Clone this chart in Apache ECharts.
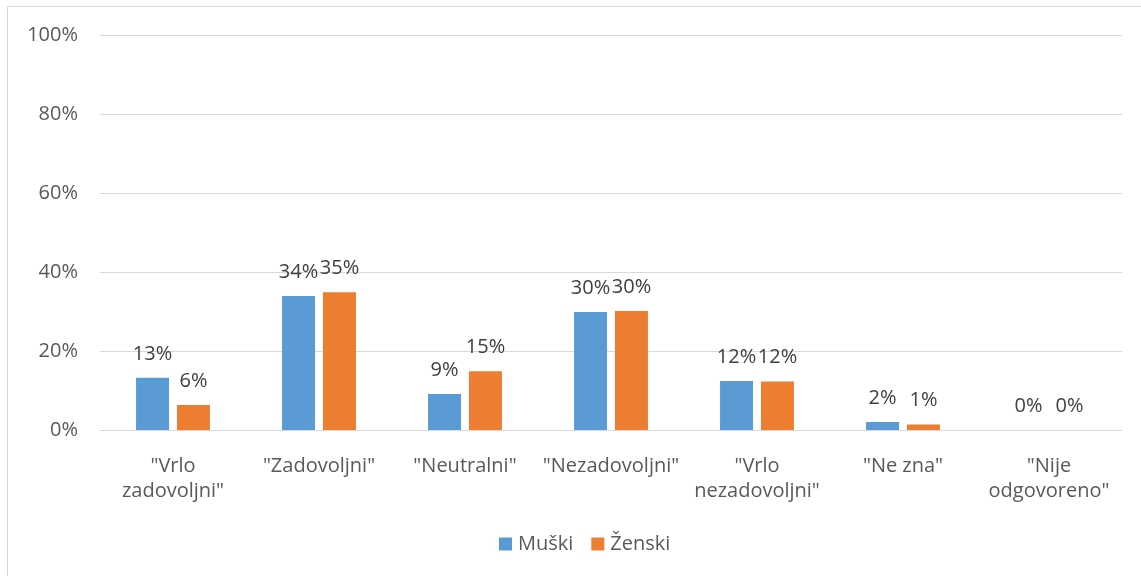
<!DOCTYPE html>
<html><head><meta charset="utf-8">
<script src="https://cdn.jsdelivr.net/npm/echarts@6/dist/echarts.min.js"></script>
<style>html,body{margin:0;padding:0;background:#fff}#c{width:1141px;height:576px}</style>
</head><body><div id="c"></div>
<script>
const categories = ['"Vrlo\nzadovoljni"', '"Zadovoljni"', '"Neutralni"', '"Nezadovoljni"', '"Vrlo\nnezadovoljni"', '"Ne zna"', '"Nije\nodgovoreno"'];
const seriesNames = ['Muški', 'Ženski'];
const muski = [13.2, 33.9, 9.1, 29.9, 12.4, 2.0, 0];
const zenski = [6.3, 34.9, 14.9, 30.1, 12.3, 1.4, 0];
const yTicks = [0, 20, 40, 60, 80, 100];

const font = '"Open Sans", sans-serif';
const chart = echarts.init(document.getElementById('c'), null, {renderer: 'canvas'});
const lbl = {show: true, position: 'top', distance: 14, color: '#404040', fontSize: 20, fontFamily: font,
  formatter: p => Math.round(p.value) + '%'};
chart.setOption({
  animation: false,
  graphic: [{type: 'rect', shape: {x: 7.5, y: 6.5, width: 1145, height: 580}, style: {fill: 'none', stroke: '#d9d9d9', lineWidth: 1}}],
  grid: {left: 100, right: 19, top: 35, bottom: 146},
  legend: {top: 529, left: 494, itemWidth: 13, itemHeight: 13, itemGap: 18, icon: 'rect',
    textStyle: {color: '#595959', fontSize: 20, fontFamily: font, padding: [0, 0, 0, 1]}, data: seriesNames},
  xAxis: {type: 'category', data: categories,
    axisLine: {lineStyle: {color: '#d9d9d9'}}, axisTick: {show: false},
    axisLabel: {color: '#595959', fontSize: 20, fontFamily: font, lineHeight: 25, margin: 24, interval: 0}},
  yAxis: {type: 'value', min: 0, max: 100, interval: 20,
    axisLine: {show: false}, axisTick: {show: false},
    splitLine: {lineStyle: {color: '#d9d9d9'}},
    axisLabel: {color: '#595959', fontSize: 20, fontFamily: font, margin: 22, formatter: v => v + '%'}},
  series: [
    {name: seriesNames[0], type: 'bar', data: muski, barWidth: 33, barGap: '24%', itemStyle: {color: '#5b9bd5'}, label: lbl},
    {name: seriesNames[1], type: 'bar', data: zenski, barWidth: 33, itemStyle: {color: '#ed7d31'}, label: lbl}
  ]
});
</script></body></html>
